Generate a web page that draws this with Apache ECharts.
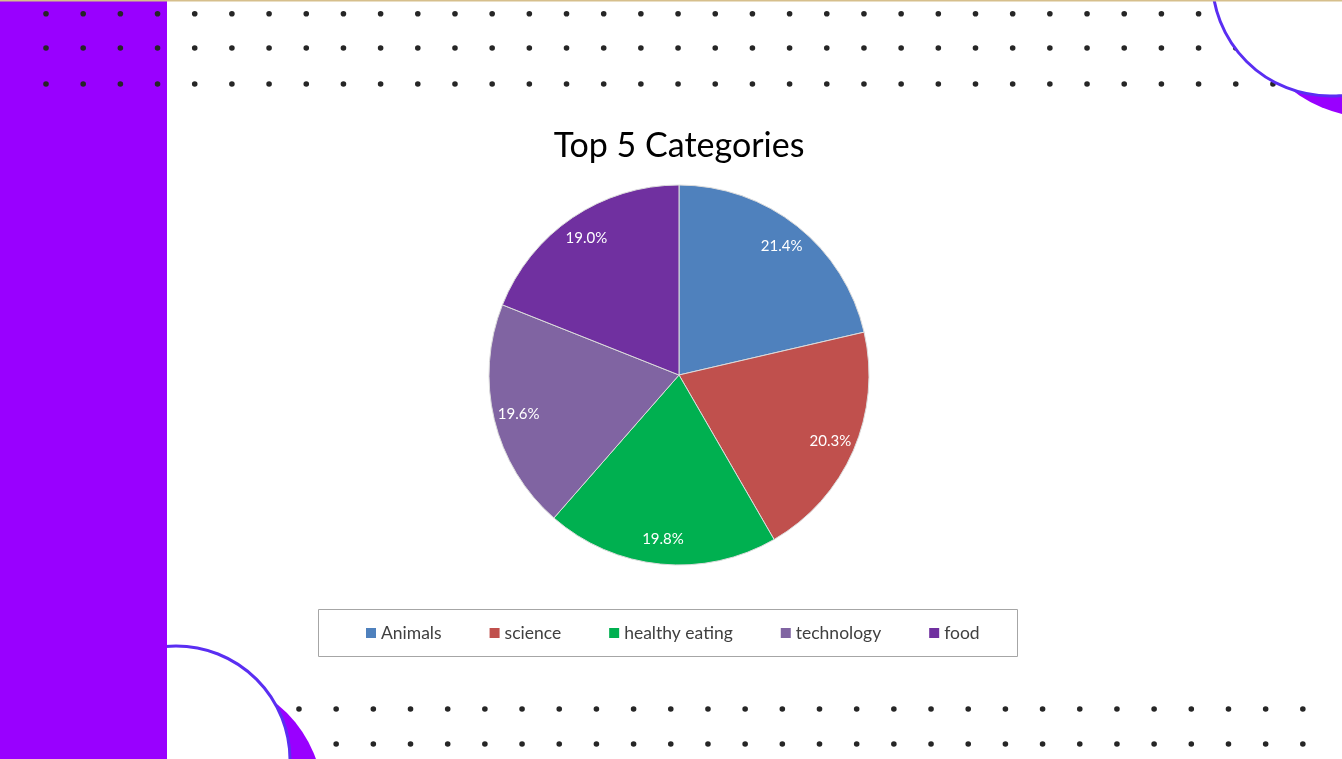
<!DOCTYPE html>
<html>
<head>
<meta charset="utf-8">
<script src="https://cdn.jsdelivr.net/npm/echarts@6/dist/echarts.min.js"></script>
<style>
html,body{margin:0;padding:0;background:#fff;}
#chart{width:1342px;height:759px;}
</style>
</head>
<body>
<div id="chart"></div>
<script>
// ---- data ----
const categories = ['Animals', 'science', 'healthy eating', 'technology', 'food'];
const percents = [21.4, 20.3, 19.8, 19.6, 19.0];
const colors = ['#4F81BD', '#C0504D', '#00B050', '#8064A2', '#7030A0'];
const titleText = 'Top 5 Categories';

const chart = echarts.init(document.getElementById('chart'));

// ---- decorative slide background ----
const deco = [];
const DOT = '#262626';
const STROKE = '#5a2ef2';
const PURPLE = '#9900FF';
function dotRow(y, x0, n, z) {
  for (let i = 0; i < n; i++) {
    deco.push({type: 'circle', silent: true, z: z,
      shape: {cx: x0 + i * 37.18, cy: y, r: 2.8}, style: {fill: DOT}});
  }
}
// bottom rows (under bottom-left arc)
dotRow(709, 261.8, 29, 1);
dotRow(744, 261.8, 29, 1);
// bottom-left arc
deco.push({type: 'circle', silent: true, z: 2, shape: {cx: 200, cy: 800, r: 123}, style: {fill: PURPLE}});
deco.push({type: 'circle', silent: true, z: 3, shape: {cx: 176, cy: 760, r: 114}, style: {fill: '#fff', stroke: STROKE, lineWidth: 3}});
// left band
deco.push({type: 'rect', silent: true, z: 4, shape: {x: 0, y: 0, width: 167, height: 759}, style: {fill: PURPLE}});
// top rows
dotRow(13.7, 46, 36, 5);
dotRow(48, 46, 36, 5);
dotRow(84, 46, 36, 5);
// top-right arc
deco.push({type: 'circle', silent: true, z: 6, shape: {cx: 1370, cy: -10, r: 127}, style: {fill: PURPLE}});
deco.push({type: 'circle', silent: true, z: 7, shape: {cx: 1330, cy: -22, r: 118}, style: {fill: '#fff', stroke: STROKE, lineWidth: 3}});
// top thin line
deco.push({type: 'rect', silent: true, z: 8, shape: {x: 0, y: 0, width: 1342, height: 1.5}, style: {fill: '#d6bf8c'}});
// legend box
deco.push({type: 'rect', silent: true, z: 1, shape: {x: 318.5, y: 609.5, width: 699, height: 47}, style: {fill: '#fff', stroke: '#a6a6a6', lineWidth: 1}});

const pieData = categories.map((c, i) => ({name: c, value: percents[i], itemStyle: {color: colors[i]}}));

chart.setOption({
  animation: false,
  backgroundColor: '#ffffff',
  title: {
    text: titleText,
    left: 679,
    top: 129,
    padding: 0,
    textAlign: 'center',
    textStyle: {fontFamily: 'Lato', fontSize: 34, fontWeight: 'normal', color: '#000'}
  },
  legend: {
    data: categories,
    left: 366,
    top: 624,
    padding: 0,
    icon: 'rect',
    itemWidth: 10,
    itemHeight: 10,
    itemGap: 48,
    selectedMode: false,
    itemStyle: {borderWidth: 0},
    textStyle: {fontFamily: 'Lato', fontSize: 17.5, color: '#404040'}
  },
  graphic: {elements: deco},
  series: [
    {
      type: 'pie',
      center: [679, 375],
      radius: [0, 190],
      startAngle: 90,
      clockwise: true,
      silent: true,
      label: {show: false},
      labelLine: {show: false},
      itemStyle: {borderColor: '#dcdcdc', borderWidth: 1},
      data: pieData
    },
    {
      type: 'pie',
      center: [679, 375],
      radius: [134, 190],
      startAngle: 90,
      clockwise: true,
      silent: true,
      legendHoverLink: false,
      itemStyle: {color: 'rgba(0,0,0,0)', borderWidth: 0},
      label: {
        show: true,
        position: 'inside',
        formatter: p => p.value.toFixed(1) + '%',
        fontFamily: 'Lato',
        fontSize: 15,
        color: '#ffffff'
      },
      labelLine: {show: false},
      data: categories.map((c, i) => ({name: c + ' ', value: percents[i]}))
    }
  ]
});
</script>
</body>
</html>
